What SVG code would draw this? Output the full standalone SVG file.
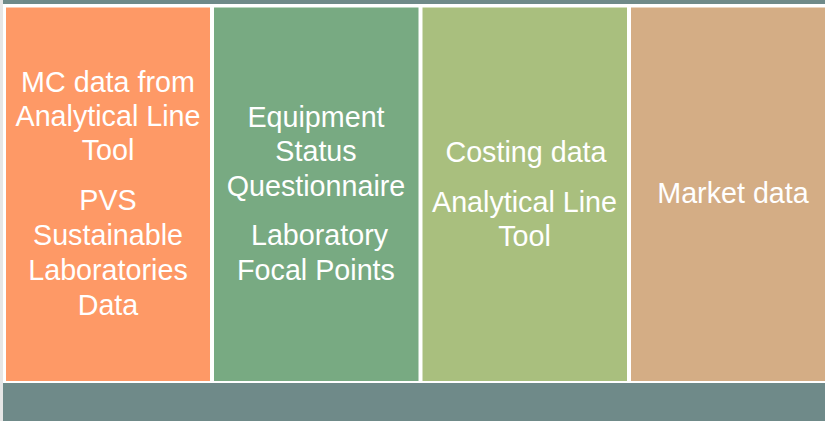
<svg xmlns="http://www.w3.org/2000/svg" width="825" height="421" viewBox="0 0 825 421">
<style>
.t{font-family:"Liberation Sans",Arial,sans-serif;font-size:28.7px;fill:#ffffff;text-anchor:middle}
.bar{fill:#6f8a89}
</style>
<rect x="0" y="0" width="825" height="421" fill="#ffffff"/>
<rect x="0" y="0" width="3" height="421" fill="#e6e6e6"/>
<rect class="bar" x="3" y="0" width="822" height="4"/>
<g id="col-orange">
<rect x="6" y="7.5" width="204" height="373.5" fill="#fe9966"/>
<text class="t" x="108" y="91.5">MC data from</text>
<text class="t" x="108" y="125.5">Analytical Line</text>
<text class="t" x="108" y="160">Tool</text>
<text class="t" x="108" y="210">PVS</text>
<text class="t" x="108" y="245">Sustainable</text>
<text class="t" x="108" y="280">Laboratories</text>
<text class="t" x="108" y="315">Data</text>
</g>
<g id="col-green">
<rect x="214" y="7.5" width="204.5" height="373.5" fill="#78aa82"/>
<text class="t" x="316" y="126.5">Equipment</text>
<text class="t" x="316" y="161">Status</text>
<text class="t" x="316" y="195.5">Questionnaire</text>
<text class="t" x="319.5" y="245">Laboratory</text>
<text class="t" x="316" y="280">Focal Points</text>
</g>
<g id="col-lightgreen">
<rect x="422.5" y="7.5" width="204.5" height="373.5" fill="#a9bf7e"/>
<text class="t" x="526" y="161.5">Costing data</text>
<text class="t" x="524.5" y="211.5">Analytical Line</text>
<text class="t" x="524.5" y="245.5">Tool</text>
</g>
<g id="col-tan">
<rect x="631" y="7.5" width="194" height="373.5" fill="#d4ad85"/>
<text class="t" x="733" y="203">Market data</text>
</g>
<g id="connectors"></g>
<rect class="bar" x="3" y="383" width="822" height="38"/>
</svg>
